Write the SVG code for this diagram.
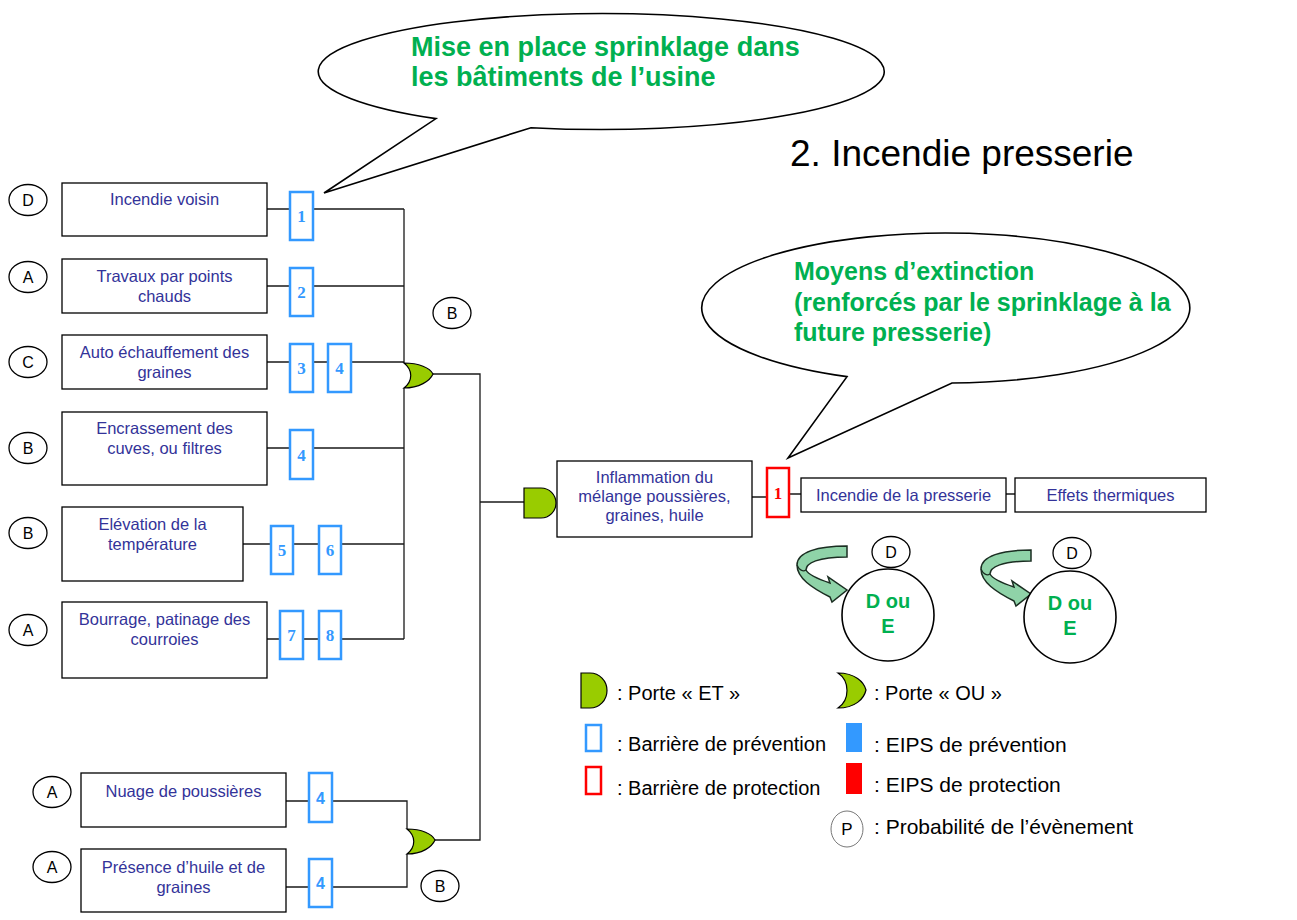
<svg xmlns="http://www.w3.org/2000/svg" width="1297" height="920" viewBox="0 0 1297 920">
  <style>
    .box { fill:#fff; stroke:#000; stroke-width:1.3; }
    .lbl { font-family:"Liberation Sans", Arial, sans-serif; font-size:16.5px; fill:#333399; text-anchor:middle; }
    .prob { fill:#fff; stroke:#000; stroke-width:1.3; }
    .prob-t { font-family:"Liberation Sans", Arial, sans-serif; font-size:16px; fill:#000; text-anchor:middle; }
    .bar { fill:#fff; stroke:#3399ff; stroke-width:2.5; }
    .bar-r { fill:#fff; stroke:#ff0000; stroke-width:2.5; }
    .bar-n { font-family:"Liberation Serif", "Times New Roman", serif; font-weight:bold; font-size:17px; fill:#3399ff; text-anchor:middle; }
    .bar-ns { font-family:"Liberation Sans", Arial, sans-serif; font-weight:bold; font-size:16px; fill:#3399ff; text-anchor:middle; }
    .gate { fill:#99cc00; stroke:#000; stroke-width:1.2; }
    .wire { fill:none; stroke:#1a1a1a; stroke-width:1.3; }
    .callout { fill:#fff; stroke:#000; stroke-width:1.6; stroke-linejoin:miter; }
    .callout-t { font-family:"Liberation Sans", Arial, sans-serif; font-weight:bold; font-size:27px; fill:#00b050; }
    .legend-t { font-family:"Liberation Sans", Arial, sans-serif; font-size:20px; fill:#000; }
    .legend-t2 { font-family:"Liberation Sans", Arial, sans-serif; font-size:21px; fill:#000; }
    .conseq { fill:#fff; stroke:#000; stroke-width:1.6; }
    .conseq-t { font-family:"Liberation Sans", Arial, sans-serif; font-weight:bold; font-size:20px; fill:#00b050; text-anchor:middle; }
    .turn { fill:#8fd3a8; stroke:#1b2e22; stroke-width:1.5; stroke-linejoin:miter; }
    .fold { fill:none; stroke:#1b2e22; stroke-width:1.2; }
    .title { font-family:"Liberation Sans", Arial, sans-serif; font-size:37px; fill:#000; }
  </style>
  <defs>
    <!-- curled arrow used beside each reassessed probability -->
    <g id="turn-arrow">
      <path d="M847,546 C818,546 797,552 797,565 C797,578 812,588 830,597 L832,602 L847,590 L828,577 L830,583 C818,579 808,574 806,570 C806,563 818,557 847,557 Z"/>
      <path class="fold" d="M797,565 C799,570 803,572 806,570"/>
    </g>
  </defs>

  <rect width="1297" height="920" fill="#fff"/>

  <!-- Title -->
  <text class="title" x="790" y="166">2. Incendie presserie</text>

  <!-- Callout bubbles -->
  <g id="callout-sprinklage">
    <path class="callout" d="M436,118.6 A283,58 0 1 1 531,127.7 L324,193 Z"/>
    <text class="callout-t" x="411" y="56">Mise en place sprinklage dans</text>
    <text class="callout-t" x="411" y="86">les bâtiments de l’usine</text>
  </g>
  <g id="callout-extinction">
    <path class="callout" d="M847,376.6 A244,75 0 1 1 952,383 L788,458 Z"/>
    <text class="callout-t" x="794" y="280" style="font-size:25px">Moyens d’extinction</text>
    <text class="callout-t" x="794" y="310.5" style="font-size:25px">(renforcés par le sprinklage à la</text>
    <text class="callout-t" x="794" y="341" style="font-size:25px">future presserie)</text>
  </g>

  <!-- Connectors -->
  <g id="connectors" class="wire">
    <path d="M267,209 H290 M313,209 H404"/>
    <path d="M267,286 H290 M313,286 H404"/>
    <path d="M267,362 H290 M313,362 H328 M351,362 H404"/>
    <path d="M267,448 H290 M313,448 H404"/>
    <path d="M243,544 H271 M293,544 H319 M341,544 H404"/>
    <path d="M267,639 H280 M303,639 H319 M341,639 H404"/>
    <path d="M404,209 V363 M404,388 V639"/>
    <path d="M433,374 H480 V840 H435"/>
    <path d="M480,502 H524"/>
    <path d="M286,801 H309 M332,801 H407 V829"/>
    <path d="M286,887 H309 M332,887 H407 V854"/>
    <path d="M752,497 H767 M789,494 H801 M1006,494 H1015"/>
  </g>

  <!-- Gates -->
  <g id="gate-or-top"><path class="gate" d="M404,363 C419,363 430,368 433,374 C430,381 419,388 404,388 C413,381 413,370 404,363 Z"/></g>
  <g id="gate-or-bottom"><path class="gate" d="M407,829 C422,829 432,834 435,840 C432,847 422,854 407,854 C416,847 416,836 407,829 Z"/></g>
  <g id="gate-and"><path class="gate" d="M524,488 H541 A15,15 0 0 1 541,518 H524 Z"/></g>

  <!-- Initiating events -->
  <g id="ev-incendie-voisin">
    <rect class="box" x="62" y="183" width="205" height="53"/>
    <text class="lbl" x="164.5" y="205">Incendie voisin</text>
  </g>
  <g id="ev-travaux">
    <rect class="box" x="62" y="259" width="205" height="54"/>
    <text class="lbl" x="164.5" y="282">Travaux par points</text>
    <text class="lbl" x="164.5" y="301.5">chauds</text>
  </g>
  <g id="ev-auto-echauffement">
    <rect class="box" x="62" y="335" width="205" height="54"/>
    <text class="lbl" x="164.5" y="358">Auto échauffement des</text>
    <text class="lbl" x="164.5" y="377.5">graines</text>
  </g>
  <g id="ev-encrassement">
    <rect class="box" x="62" y="412" width="205" height="73"/>
    <text class="lbl" x="164.5" y="434">Encrassement des</text>
    <text class="lbl" x="164.5" y="453.5">cuves, ou filtres</text>
  </g>
  <g id="ev-elevation">
    <rect class="box" x="62" y="507" width="181" height="74"/>
    <text class="lbl" x="152.5" y="530">Elévation de la</text>
    <text class="lbl" x="152.5" y="549.5">température</text>
  </g>
  <g id="ev-bourrage">
    <rect class="box" x="62" y="602" width="205" height="76"/>
    <text class="lbl" x="164.5" y="625">Bourrage, patinage des</text>
    <text class="lbl" x="164.5" y="644.5">courroies</text>
  </g>
  <g id="ev-nuage">
    <rect class="box" x="81" y="773" width="205" height="54"/>
    <text class="lbl" x="183.5" y="797">Nuage de poussières</text>
  </g>
  <g id="ev-presence">
    <rect class="box" x="81" y="849" width="205" height="63"/>
    <text class="lbl" x="183.5" y="873">Présence d’huile et de</text>
    <text class="lbl" x="183.5" y="892.5">graines</text>
  </g>

  <!-- Central and downstream events -->
  <g id="ev-inflammation">
    <rect class="box" x="557" y="461" width="195" height="76"/>
    <text class="lbl" x="654.5" y="483">Inflammation du</text>
    <text class="lbl" x="654.5" y="502">mélange poussières,</text>
    <text class="lbl" x="654.5" y="521">graines, huile</text>
  </g>
  <g id="ev-incendie-presserie">
    <rect class="box" x="801" y="478" width="205" height="34"/>
    <text class="lbl" x="903.5" y="501">Incendie de la presserie</text>
  </g>
  <g id="ev-effets">
    <rect class="box" x="1015" y="478" width="191" height="34"/>
    <text class="lbl" x="1110.5" y="501">Effets thermiques</text>
  </g>

  <!-- Barriers -->
  <g id="barriers">
    <g id="bar-1"><rect class="bar" x="290" y="192" width="23" height="48"/><text class="bar-n" x="301.5" y="222">1</text></g>
    <g id="bar-2"><rect class="bar" x="290" y="268" width="23" height="48"/><text class="bar-n" x="301.5" y="298">2</text></g>
    <g id="bar-3"><rect class="bar" x="290" y="344" width="23" height="48"/><text class="bar-n" x="301.5" y="374">3</text></g>
    <g id="bar-4a"><rect class="bar" x="328" y="344" width="23" height="48"/><text class="bar-n" x="339.5" y="374">4</text></g>
    <g id="bar-4b"><rect class="bar" x="290" y="430" width="23" height="49"/><text class="bar-n" x="301.5" y="460.5">4</text></g>
    <g id="bar-5"><rect class="bar" x="271" y="526" width="22" height="48"/><text class="bar-n" x="282" y="556">5</text></g>
    <g id="bar-6"><rect class="bar" x="319" y="526" width="22" height="48"/><text class="bar-n" x="330" y="556">6</text></g>
    <g id="bar-7"><rect class="bar" x="280" y="611" width="23" height="48"/><text class="bar-n" x="291.5" y="641">7</text></g>
    <g id="bar-8"><rect class="bar" x="319" y="611" width="22" height="48"/><text class="bar-n" x="330" y="641">8</text></g>
    <g id="bar-4c"><rect class="bar" x="309" y="773" width="23" height="49"/><text class="bar-ns" x="320.5" y="803.5">4</text></g>
    <g id="bar-4d"><rect class="bar" x="309" y="859" width="23" height="48"/><text class="bar-ns" x="320.5" y="889">4</text></g>
    <g id="bar-prot-1"><rect class="bar-r" x="767" y="468" width="22" height="49"/><text class="bar-n" x="778" y="498.5" style="fill:#ff0000">1</text></g>
  </g>

  <!-- Probability tags -->
  <g id="probabilities">
    <g id="p-incendie-voisin"><ellipse class="prob" cx="28" cy="200" rx="19" ry="15.5"/><text class="prob-t" x="28" y="205.5">D</text></g>
    <g id="p-travaux"><ellipse class="prob" cx="28" cy="277" rx="19" ry="15.5"/><text class="prob-t" x="28" y="282.5">A</text></g>
    <g id="p-auto"><ellipse class="prob" cx="28" cy="362" rx="19" ry="15.5"/><text class="prob-t" x="28" y="367.5">C</text></g>
    <g id="p-encrassement"><ellipse class="prob" cx="28" cy="448" rx="19" ry="15.5"/><text class="prob-t" x="28" y="453.5">B</text></g>
    <g id="p-elevation"><ellipse class="prob" cx="28" cy="533" rx="19" ry="15.5"/><text class="prob-t" x="28" y="538.5">B</text></g>
    <g id="p-bourrage"><ellipse class="prob" cx="28" cy="630" rx="19" ry="15.5"/><text class="prob-t" x="28" y="635.5">A</text></g>
    <g id="p-nuage"><ellipse class="prob" cx="52" cy="792" rx="19" ry="15.5"/><text class="prob-t" x="52" y="797.5">A</text></g>
    <g id="p-presence"><ellipse class="prob" cx="52" cy="867" rx="19" ry="15.5"/><text class="prob-t" x="52" y="872.5">A</text></g>
    <g id="p-or-top"><ellipse class="prob" cx="452" cy="313" rx="19" ry="15.5"/><text class="prob-t" x="452" y="318.5">B</text></g>
    <g id="p-or-bottom"><ellipse class="prob" cx="440" cy="886" rx="19" ry="15.5"/><text class="prob-t" x="440" y="891.5">B</text></g>
    <g id="p-incendie-presserie"><ellipse class="prob" cx="891" cy="552" rx="19" ry="15.5"/><text class="prob-t" x="891" y="557.5">D</text></g>
    <g id="p-effets"><ellipse class="prob" cx="1072" cy="553" rx="19" ry="15.5"/><text class="prob-t" x="1072" y="558.5">D</text></g>
  </g>

  <!-- Reassessed probabilities -->
  <g id="reassess-presserie">
    <use href="#turn-arrow" class="turn"/>
    <circle class="conseq" cx="888" cy="615" r="46"/>
    <text class="conseq-t" x="888" y="608">D ou</text>
    <text class="conseq-t" x="888" y="633">E</text>
  </g>
  <g id="reassess-effets">
    <use href="#turn-arrow" class="turn" transform="translate(184,4)"/>
    <circle class="conseq" cx="1070" cy="617" r="46"/>
    <text class="conseq-t" x="1070" y="610">D ou</text>
    <text class="conseq-t" x="1070" y="635">E</text>
  </g>

  <!-- Legend -->
  <g id="legend">
    <path class="gate" d="M581,673 H590 A17,17.5 0 0 1 590,708 H581 Z"/>
    <text class="legend-t" x="617" y="700">: Porte « ET »</text>
    <path class="gate" d="M838,673 C855,673 864,682 866,690 C864,699 855,708 838,708 C850,700 850,681 838,673 Z"/>
    <text class="legend-t" x="874" y="700">: Porte « OU »</text>
    <rect class="bar" x="586" y="725" width="15" height="26"/>
    <text class="legend-t" x="617" y="751">: Barrière de prévention</text>
    <rect class="bar-r" x="586" y="767" width="15" height="27"/>
    <text class="legend-t" x="617" y="795">: Barrière de protection</text>
    <rect x="846" y="723" width="16" height="29" fill="#3399ff"/>
    <text class="legend-t2" x="874" y="752">: EIPS de prévention</text>
    <rect x="846" y="763" width="16" height="31" fill="#ff0000"/>
    <text class="legend-t2" x="874" y="792">: EIPS de protection</text>
    <ellipse cx="847" cy="829" rx="16" ry="18" fill="#fff" stroke="#777" stroke-width="1"/>
    <text class="prob-t" x="847" y="835" style="font-size:17px">P</text>
    <text class="legend-t2" x="874" y="834">: Probabilité de l’évènement</text>
  </g>
</svg>
